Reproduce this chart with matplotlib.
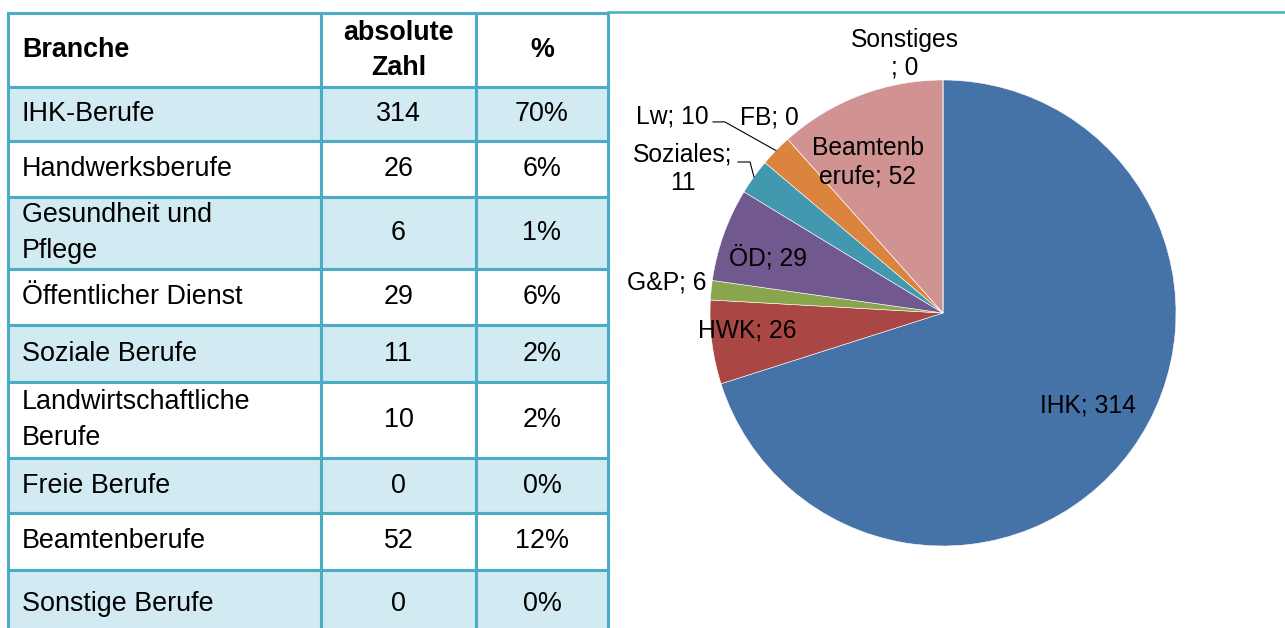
import numpy as np
import matplotlib
matplotlib.use('Agg')
import matplotlib.pyplot as plt
from matplotlib.table import Table
from matplotlib.lines import Line2D

# table data
header = ['Branche', 'absolute\nZahl', '%']
branches = ['IHK-Berufe', 'Handwerksberufe', 'Gesundheit und\nPflege',
            'Öffentlicher Dienst', 'Soziale Berufe', 'Landwirtschaftliche\nBerufe',
            'Freie Berufe', 'Beamtenberufe', 'Sonstige Berufe']
counts = [314, 26, 6, 29, 11, 10, 0, 52, 0]
percents = ['70%', '6%', '1%', '6%', '2%', '2%', '0%', '12%', '0%']

# pie data (same order as table)
short_names = ['IHK', 'HWK', 'G&P', 'ÖD', 'Soziales', 'Lw', 'FB', 'Beamtenberufe', 'Sonstiges']
pie_colors = ['#4572A7', '#AA4643', '#89A54E', '#71588F', '#4198AF',
              '#DB843D', '#93A9CF', '#D19392', '#A47D7C']

# layout
W, H = 1285, 628
BORDER = '#4BACC6'
FILL = '#D2EAF1'
FONT = 'Liberation Sans'
col_px = [313, 155, 132]
row_px = [74, 54, 56, 72, 56, 57, 76, 55, 57, 68]
# where the pie labels go, in pie radius units, and where labels wrap
label_pos = [(0.622, -0.395), (-0.841, -0.073), (-1.185, 0.129), (-0.751, 0.236),
             (-1.116, 0.618), (-1.163, 0.845), (-0.747, 0.837), (-0.322, 0.648),
             (-0.163, 1.112)]
wrap_at = {4: 9, 7: 8, 8: 9}
leaders = {5: [(-0.987, 0.820), (-0.936, 0.820)],
           4: [(-0.880, 0.648), (-0.828, 0.648)]}

fig = plt.figure(figsize=(W / 100, H / 100), dpi=100)


def px_axes(x0, y0, x1, y1):
    return fig.add_axes([x0 / W, 1 - y1 / H, (x1 - x0) / W, (y1 - y0) / H])


# ---- table ----
table_h = sum(row_px)
ax_t = px_axes(8, 13, 608, 13 + table_h)
ax_t.axis('off')
tab = Table(ax_t, bbox=[0, 0, 1, 1])
rows = [header] + [[b, str(c), p] for b, c, p in zip(branches, counts, percents)]
for r, row in enumerate(rows):
    face = FILL if (r % 2 == 1) else 'white'
    for c, txt in enumerate(row):
        cell = tab.add_cell(r, c, col_px[c] / 600, row_px[r] / table_h, text=txt,
                            loc='left' if c == 0 else 'center',
                            facecolor=face, edgecolor=BORDER)
        cell.PAD = 14 / col_px[c]
        cell.set_linewidth(2.2)
        t = cell.get_text()
        t.set_fontfamily(FONT)
        t.set_linespacing(1.5 if r else 1.45)
        if r == 0:
            t.set_fontweight('bold')
tab.auto_set_font_size(False)
tab.set_fontsize(19.4)
ax_t.add_table(tab)

# line along the top of the chart area
fig.add_artist(Line2D([608 / W, 1], [1 - 12 / H] * 2, color=BORDER, lw=1.8))

# ---- pie ----
cx, cy, R = 943, 313, 233
ax_p = px_axes(cx - R, cy - R, cx + R, cy + R)
wedges, _ = ax_p.pie(counts, colors=pie_colors, startangle=90, counterclock=False,
                     radius=1, wedgeprops=dict(edgecolor='white', linewidth=0.4))
ax_p.set_xlim(-1, 1)
ax_p.set_ylim(-1, 1)
ax_p.set_aspect('equal')
ax_p.axis('off')

for i, (name, v) in enumerate(zip(short_names, counts)):
    lab = f'{name}; {v}'
    if i in wrap_at:
        k = wrap_at[i]
        lab = lab[:k] + '\n' + lab[k:].lstrip()
    x, y = label_pos[i]
    ax_p.text(x, y, lab, ha='center', va='center', fontsize=17.7,
              family=FONT, linespacing=1.22, clip_on=False)

for i, pts in leaders.items():
    w = wedges[i]
    mid = np.deg2rad((w.theta1 + w.theta2) / 2)
    xs = [p[0] for p in pts] + [np.cos(mid)]
    ys = [p[1] for p in pts] + [np.sin(mid)]
    ax_p.add_line(Line2D(xs, ys, color='black', lw=0.8, clip_on=False))

fig.savefig('out.png', dpi=100)
